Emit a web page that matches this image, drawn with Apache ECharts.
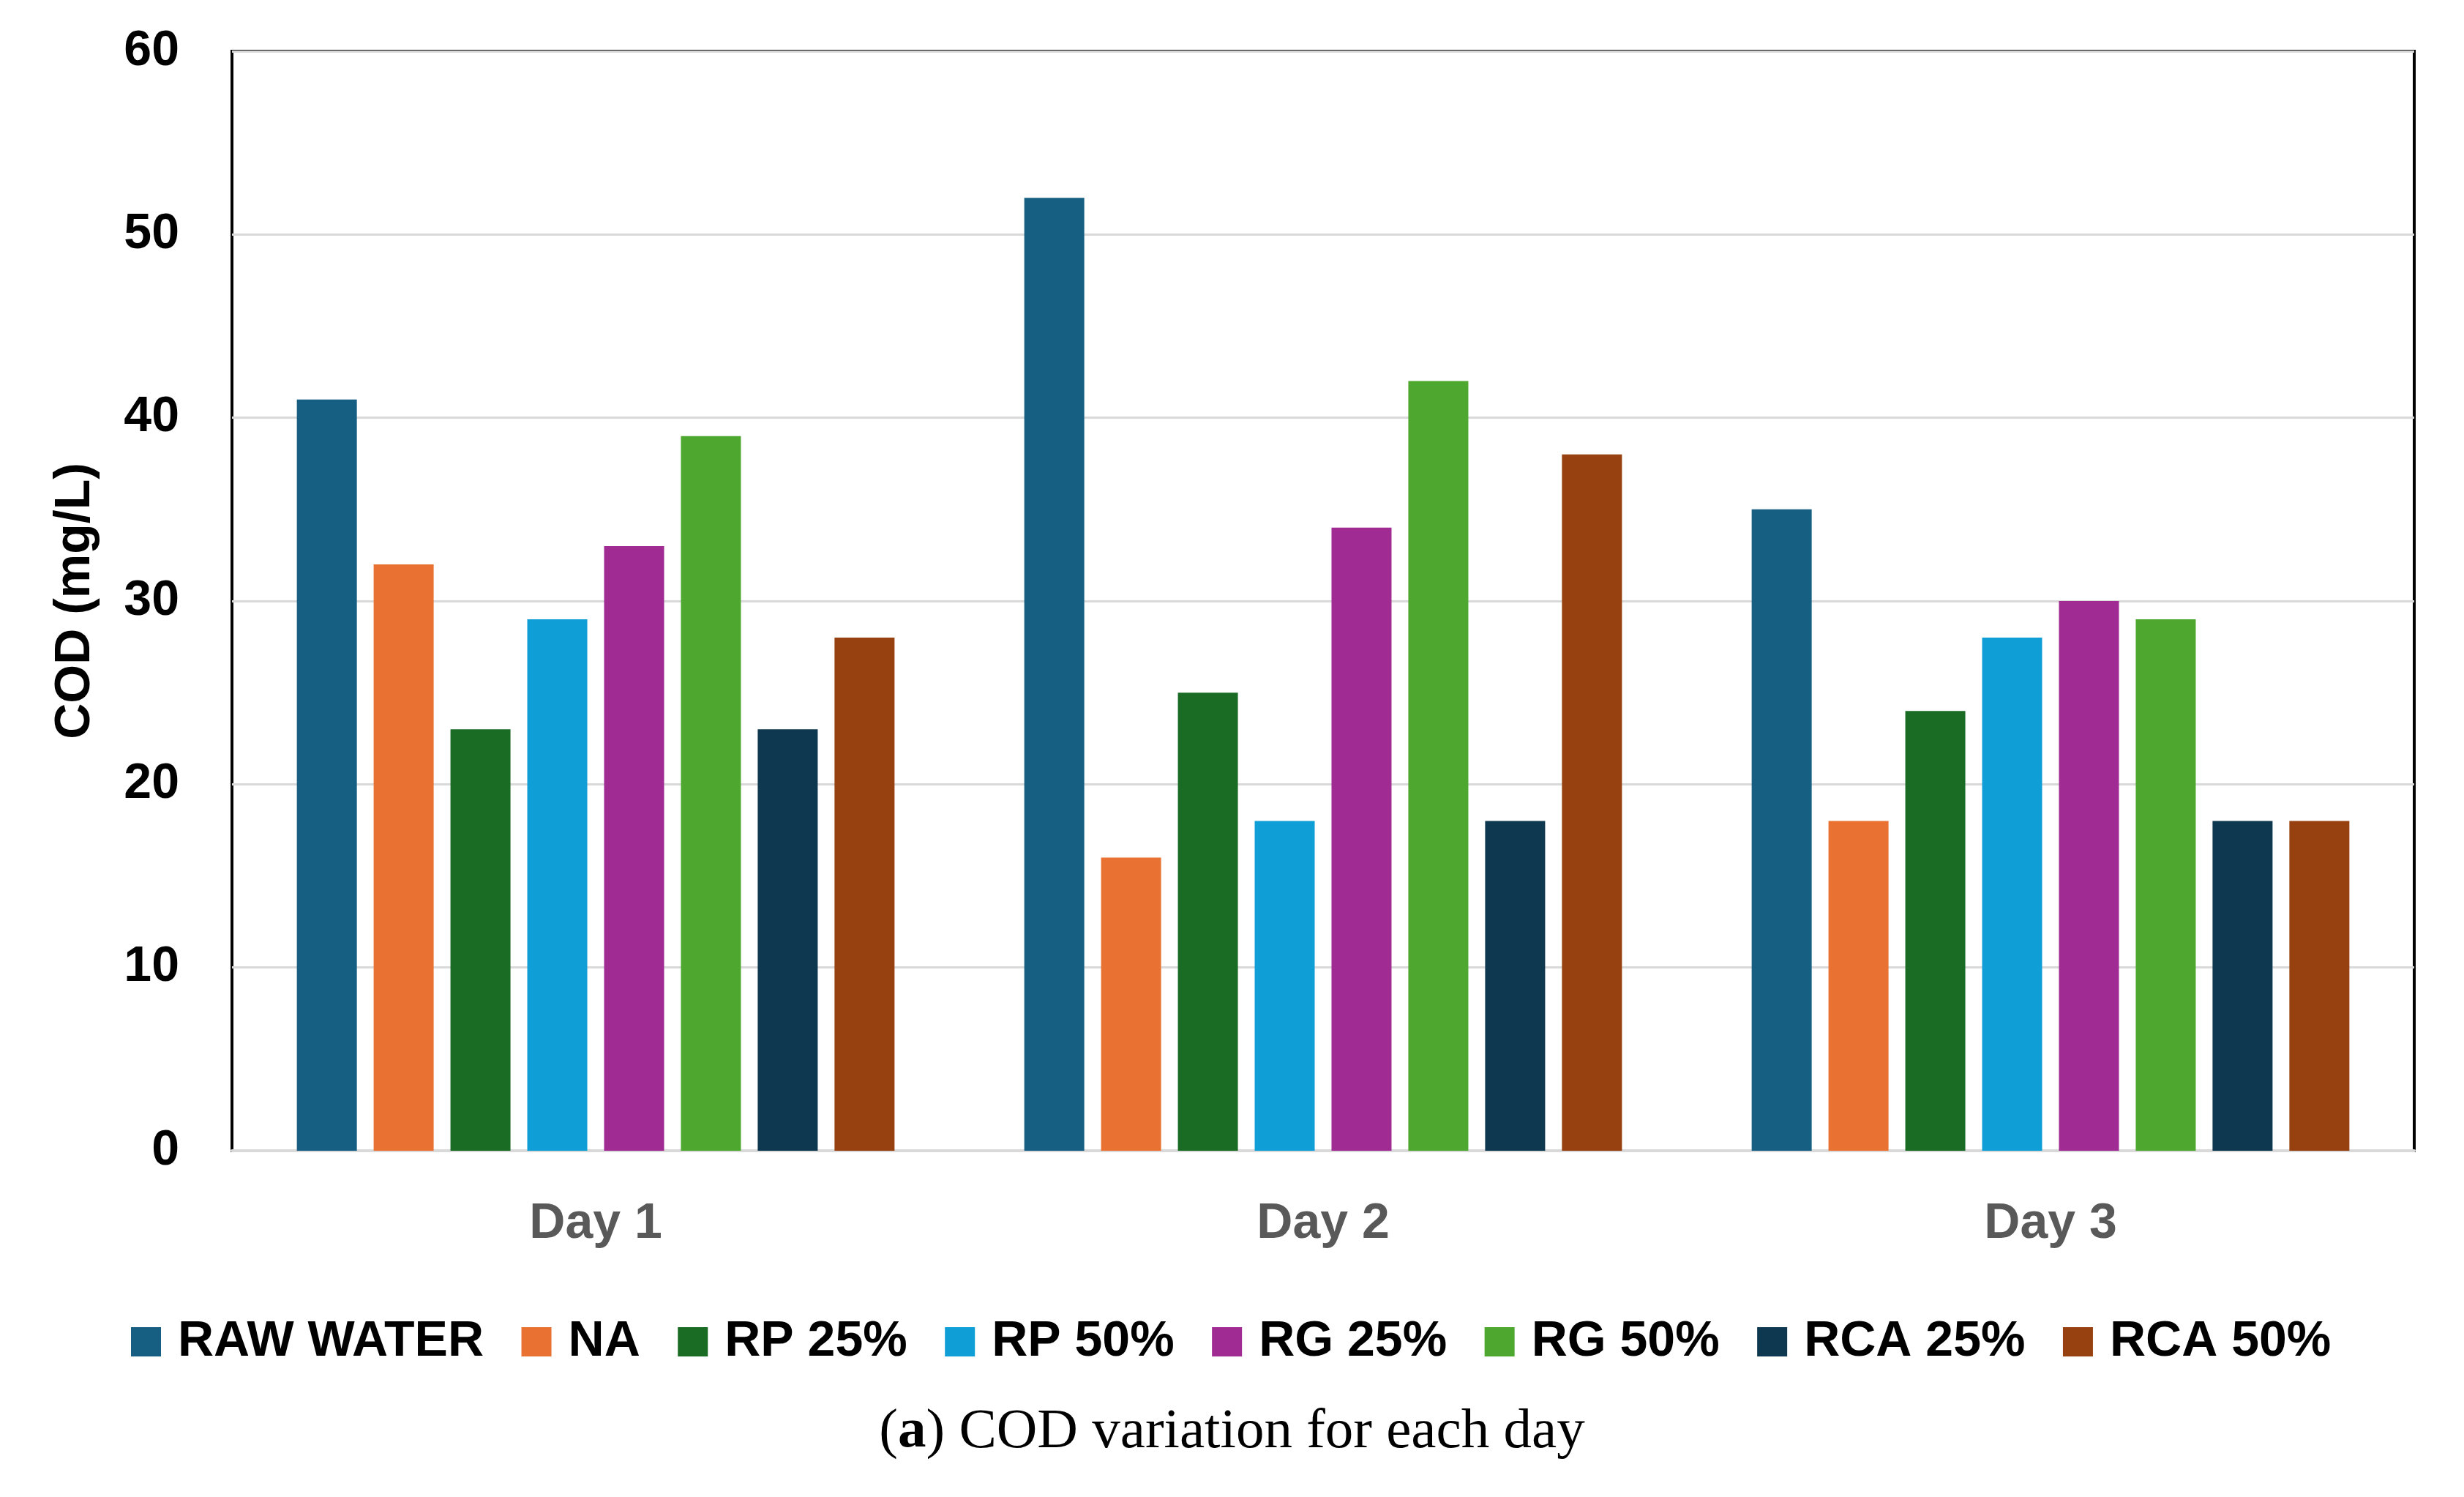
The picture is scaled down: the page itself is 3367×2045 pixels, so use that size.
<!DOCTYPE html>
<html>
<head>
<meta charset="utf-8">
<script src="https://cdn.jsdelivr.net/npm/echarts@6/dist/echarts.min.js"></script>
<style>
html,body{margin:0;padding:0;background:#fff;}
#chart{width:3367px;height:2045px;}
</style>
</head>
<body>
<div id="chart"></div>
<script>
const categories = ['Day 1', 'Day 2', 'Day 3'];
const seriesNames = ['RAW WATER', 'NA', 'RP 25%', 'RP 50%', 'RG 25%', 'RG 50%', 'RCA 25%', 'RCA 50%'];
const rawWater = [41, 52, 35];
const na = [32, 16, 18];
const rp25 = [23, 25, 24];
const rp50 = [29, 18, 28];
const rg25 = [33, 34, 30];
const rg50 = [39, 42, 29];
const rca25 = [23, 18, 18];
const rca50 = [28, 38, 18];
const yTicks = [0, 10, 20, 30, 40, 50, 60];
const colors = ['#175F82', '#E97132', '#1A6B24', '#0F9ED5', '#A02B93', '#4EA72E', '#0E3850', '#974010'];

const values = [rawWater, na, rp25, rp50, rg25, rg50, rca25, rca50];
const FONT = '"Liberation Sans", Arial, sans-serif';

const chart = echarts.init(document.getElementById('chart'));
chart.setOption({
  animation: false,
  backgroundColor: '#ffffff',
  color: colors,
  grid: {
    left: 317, right: 68, top: 70, bottom: 473,
    show: true, borderColor: '#000000', borderWidth: 4, backgroundColor: 'transparent'
  },
  legend: {
    data: seriesNames,
    left: 174,
    top: 1794,
    itemWidth: 41,
    itemHeight: 40,
    itemGap: 51.5,
    icon: 'rect',
    textStyle: { fontFamily: FONT, fontSize: 68, fontWeight: 'bold', color: '#000000', padding: [0, 0, 0, 18] }
  },
  xAxis: {
    type: 'category',
    data: categories,
    axisLine: { show: true, lineStyle: { color: '#D9D9D9', width: 4 } },
    axisTick: { show: false },
    axisLabel: { fontFamily: FONT, fontSize: 68, fontWeight: 'bold', color: '#595959', margin: 66 },
    splitLine: { show: false }
  },
  yAxis: {
    type: 'value',
    min: yTicks[0],
    max: yTicks[yTicks.length - 1],
    interval: 10,
    name: 'COD (mg/L)',
    nameLocation: 'middle',
    nameGap: 180,
    nameTextStyle: { fontFamily: FONT, fontSize: 68, fontWeight: 'bold', color: '#000000' },
    axisLine: { show: false },
    axisTick: { show: false },
    axisLabel: { fontFamily: FONT, fontSize: 68, fontWeight: 'bold', color: '#000000', margin: 72 },
    splitLine: { show: true, lineStyle: { color: '#D9D9D9', width: 3 } }
  },
  series: seriesNames.map((name, i) => ({
    name: name,
    type: 'bar',
    data: values[i],
    barWidth: 82,
    barGap: '28%',
    itemStyle: { color: colors[i] }
  })),
  graphic: [{
    type: 'text',
    left: 'center',
    top: 1918,
    style: {
      text: '({b|a}) COD variation for each day',
      font: '77px "Liberation Serif", "Times New Roman", serif',
      fill: '#000000',
      rich: {
        b: { fontFamily: '"Liberation Serif", serif', fontSize: 77, fontWeight: 'bold', fill: '#000000' }
      }
    }
  }]
});
</script>
</body>
</html>
